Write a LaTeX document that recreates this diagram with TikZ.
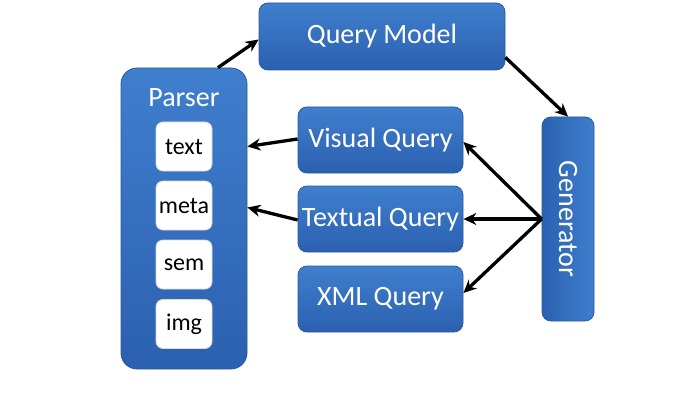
\documentclass[tikz,border=0pt]{standalone}
\usepackage{fontspec}
\setmainfont{Carlito}
\usetikzlibrary{arrows.meta,calc}
\definecolor{blueTop}{HTML}{3F7FCD}
\definecolor{blueBot}{HTML}{2B60B0}
\definecolor{blueEdge}{HTML}{2B5A9E}
\tikzset{
  bluebox/.style={draw=blueEdge, line width=0.8pt, rounded corners=9pt, top color=blueTop, bottom color=blueBot,
    text=white, font=\fontsize{28}{30}\selectfont, inner sep=0pt, align=center},
  whitebox/.style={draw=black!15, line width=0.8pt, fill=white, rounded corners=7pt, minimum width=56pt, minimum height=49pt,
    inner sep=0pt, font=\fontsize{24}{26}\selectfont},
  arr/.style={line width=3.3pt, -{Stealth[length=13pt,width=12pt]}}
}
\begin{document}
\begin{tikzpicture}[x=1pt,y=-1pt]
\useasboundingbox (0,0) rectangle (697,412);
% Parser
\node[bluebox, rounded corners=16pt, minimum width=126pt, minimum height=301pt] (parser) at (184,218.5) {};
\node[text=white, font=\fontsize{28}{30}\selectfont] (plabel) at (184,98) {Parser};
\node[whitebox] (t1) at (184,146.5) {text};
\node[whitebox] (m1) at (184,205.5) {meta};
\node[whitebox] (s1) at (184,264.5) {sem};
\node[whitebox] (i1) at (184,324) {img};
% Query model
\node[bluebox, minimum width=246pt, minimum height=67pt] (qm) at (382,36.5) {Query Model};
% queries
\node[bluebox, minimum width=165pt, minimum height=66pt] (vq) at (380.5,140) {Visual Query};
\node[bluebox, minimum width=165pt, minimum height=66pt] (tq) at (380.5,219) {Textual Query};
\node[bluebox, minimum width=165pt, minimum height=66pt] (xq) at (380.5,299) {XML Query};
% Generator
\node[draw=blueEdge, line width=0.8pt, rounded corners=9pt, left color=blueBot, right color=blueTop,
  minimum width=52pt, minimum height=204pt, inner sep=0pt] (gen) at (568,219) {};
\node[text=white, font=\fontsize{28}{30}\selectfont, rotate=-90] (glabel) at (gen.center) {Generator};
\coordinate (hub) at (gen.west);
% arrows
\draw[arr] ([xshift=34pt]parser.north) -- ([yshift=-3pt]qm.west);
\draw[arr] ([yshift=13pt]qm.south east) -- (gen.north);
\draw[arr] (hub) -- ([yshift=-2pt]vq.east);
\draw[arr] (hub) -- (tq.east);
\draw[arr] (hub) -- ([yshift=6pt]xq.east);
\draw[arr] ([yshift=1pt]vq.west) -- (t1 -| parser.east);
\draw[arr] ([yshift=-1pt]tq.west) -- ([yshift=-2pt]m1 -| parser.east);
\end{tikzpicture}
\end{document}
